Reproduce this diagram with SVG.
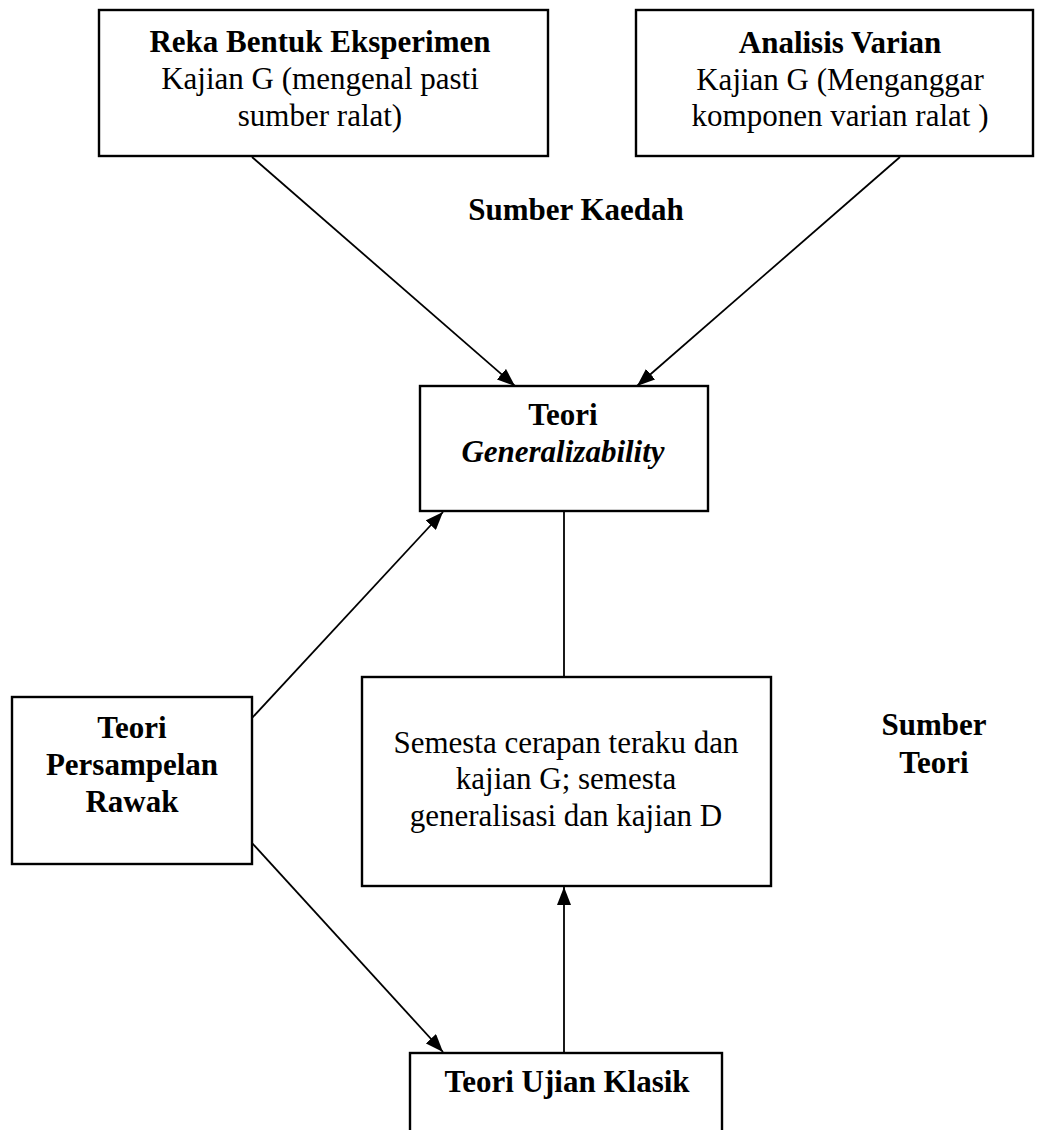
<svg xmlns="http://www.w3.org/2000/svg" width="1038" height="1130" viewBox="0 0 1038 1130">
  <style>
    .box { fill: #fff; stroke: #000; stroke-width: 2.4; }
    .t { font-family: "Liberation Serif", "Times New Roman", serif; font-size: 31px; fill: #000; text-anchor: middle; }
    .b { font-weight: bold; }
    .i { font-style: italic; }
    .link { stroke: #000; stroke-width: 1.8; fill: none; }
  </style>
  <defs>
    <marker id="arrow" viewBox="0 0 18 14" refX="18" refY="7" markerWidth="18" markerHeight="14" markerUnits="userSpaceOnUse" orient="auto">
      <path d="M0,0 L18,7 L0,14 Z" fill="#000"/>
    </marker>
  </defs>

  <rect width="1038" height="1130" fill="#fff"/>

  <!-- connectors -->
  <g id="connectors">
    <line class="link" x1="252" y1="157" x2="515" y2="386" marker-end="url(#arrow)"/>
    <line class="link" x1="900" y1="157" x2="637" y2="386" marker-end="url(#arrow)"/>
    <line class="link" x1="252" y1="718" x2="443" y2="512" marker-end="url(#arrow)"/>
    <line class="link" x1="252" y1="843" x2="443" y2="1052" marker-end="url(#arrow)"/>
    <line class="link" x1="564" y1="511" x2="564" y2="677"/>
    <line class="link" x1="564" y1="1053" x2="564" y2="887" marker-end="url(#arrow)"/>
  </g>

  <!-- experimental design -->
  <g id="reka-bentuk">
    <rect class="box" x="99" y="10" width="449" height="146"/>
    <text class="t b" x="320" y="52">Reka Bentuk Eksperimen</text>
    <text class="t" x="320" y="89">Kajian G (mengenal pasti</text>
    <text class="t" x="320" y="126">sumber ralat)</text>
  </g>

  <!-- analysis of variance -->
  <g id="analisis-varian">
    <rect class="box" x="636" y="10" width="397" height="146"/>
    <text class="t b" x="840" y="53">Analisis Varian</text>
    <text class="t" x="840" y="90">Kajian G (Menganggar</text>
    <text class="t" x="840" y="126">komponen varian ralat )</text>
  </g>

  <text id="sumber-kaedah" class="t b" x="576" y="220">Sumber Kaedah</text>

  <!-- generalizability theory -->
  <g id="teori-g">
    <rect class="box" x="420" y="386" width="288" height="125"/>
    <text class="t b" x="563" y="425">Teori</text>
    <text class="t b i" x="563" y="462">Generalizability</text>
  </g>

  <!-- random sampling theory -->
  <g id="persampelan">
    <rect class="box" x="12" y="697" width="240" height="167"/>
    <text class="t b" x="132" y="738">Teori</text>
    <text class="t b" x="132" y="775">Persampelan</text>
    <text class="t b" x="132" y="812">Rawak</text>
  </g>

  <!-- universes -->
  <g id="semesta">
    <rect class="box" x="362" y="677" width="409" height="209"/>
    <text class="t" x="566" y="753">Semesta cerapan teraku dan</text>
    <text class="t" x="566" y="789">kajian G; semesta</text>
    <text class="t" x="566" y="826">generalisasi dan kajian D</text>
  </g>

  <g id="sumber-teori">
    <text class="t b" x="934" y="735">Sumber</text>
    <text class="t b" x="934" y="773">Teori</text>
  </g>

  <!-- classical test theory -->
  <g id="ujian-klasik">
    <rect class="box" x="410" y="1053" width="312" height="100"/>
    <text class="t b" x="567" y="1092">Teori Ujian Klasik</text>
  </g>
</svg>
